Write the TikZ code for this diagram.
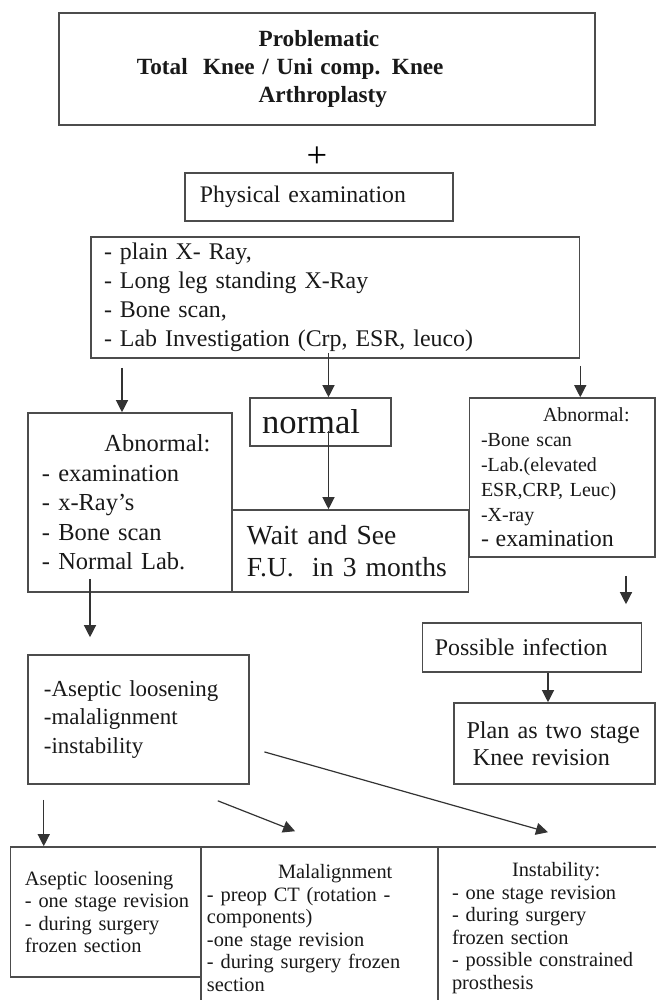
\documentclass[tikz,border=0pt]{standalone}
\usepackage{fontspec}
\setmainfont{Liberation Serif}
\usetikzlibrary{arrows.meta}

\newcommand{\fsz}[2]{\fontsize{#1}{#2}\selectfont}

\begin{document}
\begin{tikzpicture}[
    x=0.25mm, y=-0.25mm,
    blk/.style={draw=black!70, line width=0.4mm, align=left, inner ysep=0pt, text=black!90},
    arr/.style={-{Triangle[length=3mm,width=3mm]}, line width=0.3mm, draw=black!80}
  ]
  \useasboundingbox (0,0) rectangle (656,1000);
  \fill[white] (0,0) rectangle (656,1000);

  \node[blk, font=\bfseries\fsz{16.5}{20}, text width=95mm, inner xsep=19.5mm, minimum height=28mm] (prob) at (327,69)
    {\hspace*{30.4mm}Problematic\\Total\ \ Knee / Uni comp. Knee\\\hspace*{30.4mm}Arthroplasty};
  \node[font=\fsz{26}{26}, inner sep=0pt] (plus) at (317,157) {+};
  \node[blk, font=\fsz{16.9}{20}, text width=59.5mm, inner xsep=3.75mm, minimum height=12mm] (phys) at (319,197)
    {Physical examination};

  \node[blk, font=\fsz{17}{20.6}, text width=115.6mm, inner xsep=3.25mm, minimum height=30.25mm] (tests) at (335.25,297.5)
    {- plain X- Ray,\\- Long leg standing X-Ray\\- Bone scan,\\- Lab Investigation (Crp, ESR, leuco)};

  \node[blk, font=\fsz{17.4}{21}, text width=44mm, inner xsep=3.5mm, minimum height=44.75mm] (abnleft) at (130,502.5)
    {\hspace*{15.6mm}Abnormal:\\- examination\\- x-Ray's\\- Bone scan\\- Normal Lab.};
  \node[blk, font=\fsz{24.6}{26}, text width=29.25mm, inner xsep=3mm, minimum height=12mm] (normal) at (320.5,422)
    {normal};
  \node[blk, font=\fsz{19.6}{22.8}, text width=51.65mm, inner xsep=3.75mm, minimum height=20.5mm] (waitsee) at (350.3,551)
    {Wait and See\\\mbox{F.U.\ \ in 3 months}};
  \node[blk, font=\fsz{14.2}{17.8}, text width=40.6mm, inner xsep=2.9mm, minimum height=39.75mm] (abnright) at (562.25,477.5)
    {\hspace*{15.5mm}Abnormal:\\-Bone scan\\-Lab.(elevated\\ESR,CRP, Leuc)\\-X-ray\\{\fsz{17}{20}- examination}};

  \node[blk, font=\fsz{17}{20}, text width=48.55mm, inner xsep=3.1mm, minimum height=12.25mm] (infect) at (532,647.5)
    {Possible infection};
  \node[blk, font=\fsz{17.2}{19.2}, text width=44mm, inner xsep=3.1mm, minimum height=20.25mm] (twostage) at (554.5,743.5)
    {Plan as two stage\\\hspace*{1.6mm}Knee revision};
  \node[blk, font=\fsz{16.3}{20}, text width=47.25mm, inner xsep=4mm, minimum height=32.25mm] (diag) at (138.5,719.5)
    {-Aseptic loosening\\-malalignment\\-instability};

  \node[blk, font=\fsz{14.5}{16}, text width=40.4mm, inner xsep=3.6mm, minimum height=32.5mm] (asept) at (105.75,912)
    {Aseptic loosening\\\mbox{- one stage revision}\\- during surgery\\frozen section};
  \node[blk, font=\fsz{14.5}{16}, text width=56.25mm, inner xsep=1.5mm, minimum height=40.5mm] (malal) at (319.5,928)
    {\hspace*{17.75mm}Malalignment\\- preop CT (rotation -\\components)\\-one stage revision\\\mbox{- during surgery frozen}\\section};
  \node[blk, font=\fsz{14.5}{16}, text width=48.5mm, inner xsep=3.5mm, minimum height=40.5mm] (instab) at (549,928)
    {\hspace*{15mm}Instability:\\- one stage revision\\- during surgery\\frozen section\\\mbox{- possible constrained}\\prosthesis};

  \draw[arr, shorten <=2.25mm] ([xshift=-2mm]abnleft.north |- tests.south) -- ([xshift=-2mm]abnleft.north);
  \draw[arr, shorten <=-1.5mm] ([xshift=2mm]normal.north |- tests.south) -- ([xshift=2mm]normal.north);
  \draw[arr, shorten <=-4mm] ([xshift=2mm]normal.south) -- ([xshift=2mm]normal.south |- waitsee.north);
  \draw[arr, shorten <=1.75mm] (tests.south east) -- (tests.south east |- abnright.north);
  \draw[arr, shorten <=4.5mm, shorten >=4.5mm] ([xshift=23.5mm]infect.north |- abnright.south) -- ([xshift=23.5mm]infect.north);
  \draw[arr] ([xshift=4mm]infect.south) -- ([xshift=4mm]infect.south |- twostage.north);
  \draw[arr, shorten <=-3.5mm, shorten >=4.25mm] ([xshift=-10mm]abnleft.south) -- ([xshift=-10mm]abnleft.south |- diag.north);
  \draw[arr, shorten <=3.75mm] ([xshift=-15.5mm]asept.north |- diag.south) -- ([xshift=-15.5mm]asept.north);
  \draw[arr] ([shift={(-8mm,-4mm)}]diag.south east) -- ([shift={(-6.1mm,3.75mm)}]malal.north);
  \draw[arr] ([shift={(3.65mm,-8.1mm)}]diag.east) -- ([shift={(-0.25mm,3.5mm)}]instab.north);
\end{tikzpicture}
\end{document}
